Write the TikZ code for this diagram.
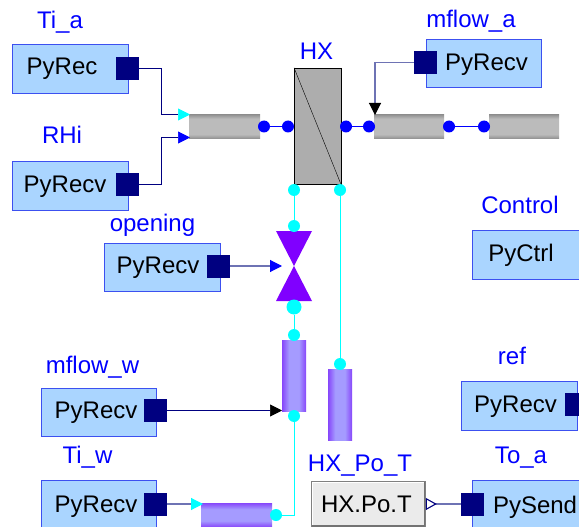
\documentclass[tikz,border=0pt]{standalone}
\usepackage{fontspec}
\setmainfont{Liberation Sans}
\usetikzlibrary{arrows.meta}
\definecolor{boxFill}{RGB}{170,213,255}
\definecolor{boxLine}{RGB}{60,80,240}
\definecolor{portDark}{RGB}{0,0,128}
\definecolor{wireGray}{RGB}{110,115,180}
\definecolor{valvePurple}{RGB}{128,0,255}
\definecolor{aqua}{RGB}{0,255,255}
\definecolor{pipeGray}{RGB}{187,187,187}
\definecolor{pipeEdge}{RGB}{150,150,150}
\definecolor{pipeLight}{RGB}{165,155,255}
\definecolor{pipeRim}{RGB}{135,70,250}
\pgfdeclareverticalshading{greyPipe}{100bp}{color(0bp)=(pipeEdge); color(25bp)=(pipeEdge); color(33bp)=(pipeGray); color(67bp)=(pipeGray); color(75bp)=(pipeEdge); color(100bp)=(pipeEdge)}
\pgfdeclareverticalshading{purplePipeH}{100bp}{color(0bp)=(pipeRim); color(25bp)=(pipeRim); color(38bp)=(pipeLight); color(62bp)=(pipeLight); color(75bp)=(pipeRim); color(100bp)=(pipeRim)}
\pgfdeclarehorizontalshading{purplePipeV}{100bp}{color(0bp)=(pipeRim); color(25bp)=(pipeRim); color(40bp)=(pipeLight); color(60bp)=(pipeLight); color(75bp)=(pipeRim); color(100bp)=(pipeRim)}
\tikzset{
  block/.style={draw=boxLine, semithick, fill=boxFill, minimum width=115.5pt, minimum height=48.5pt, inner sep=0pt, anchor=north west, text height=18pt, text depth=5pt, font=\fontsize{24}{24}\selectfont},
  tag/.style={text=blue, inner sep=0pt, anchor=base, font=\fontsize{24}{24}\selectfont},
  sqport/.style={fill=portDark, minimum size=23pt, inner sep=0pt},
  dot/.style={circle, fill=blue, minimum size=12pt, inner sep=0pt},
  cdot/.style={circle, fill=aqua, minimum size=12pt, inner sep=0pt},
  wire/.style={draw=portDark, line width=0.7pt},
  softwire/.style={draw=wireGray, line width=1.1pt},
  blueline/.style={draw=blue, line width=0.8pt},
  cyanline/.style={draw=aqua, line width=0.7pt},
  tipin/.style={-{Triangle[length=12pt,width=12pt,color=#1,fill=#1]}},
}
\begin{document}
\begin{tikzpicture}[x=1pt, y=-1pt]
  \useasboundingbox (0,0) rectangle (579,527);
  % grey pipes
  \foreach \xA/\xB in {189/260, 374/444, 489/559} {
      \shade[shading=greyPipe] (\xA,115) rectangle (\xB,138);
  }
  % purple pipes
  \shade[shading=purplePipeV] (282,340) rectangle (306,411);
  \shade[shading=purplePipeV] (328,369) rectangle (352,440);
  \shade[shading=purplePipeH] (201,503) rectangle (272,527);
  % heat exchanger
  \node (hx) [draw, fill=black!32, minimum width=46.5pt, minimum height=116pt, inner sep=0pt] at (317.5,126) {};
  \draw (hx.north west) -- (hx.south east);
  % valve
  \fill[valvePurple] (276,231) -- (312,231) -- (276,301) -- (312,301) -- cycle;
  \coordinate (valveIn) at (282,266);
  % blocks
  \node (tiA) [block] at (12,44.5) {\hspace*{-16pt}\raisebox{1pt}{PyRec}};
  \node (rhi) [block] at (12,161) {\hspace*{-10pt}PyRecv};
  \node (flowA) [block] at (425.5,39) {\hspace*{6pt}PyRecv};
  \node (ctrl) [block] at (472,230) {\hspace*{-18pt}PyCtrl};
  \node (open) [block] at (104,242.5) {\hspace*{-8pt}PyRecv};
  \node (flowW) [block] at (40.5,387.5) {\hspace*{-5pt}PyRecv};
  \node (tiW) [block] at (40.5,480) {\hspace*{-5pt}\raisebox{-1pt}{PyRecv}};
  \node (refB) [block] at (461,381) {\hspace*{-7pt}PyRecv};
  \node (toA) [block] at (472,480) {\hspace*{10pt}\raisebox{-2pt}{PySend}};
  % tags
  \node (hxTag) [tag] at (316.5,59.5) {HX};
  \node (tiAtag) [tag] at (60,28.5) {Ti\_a};
  \node (rhiTag) [tag] at (62,143.5) {RHi};
  \node (flowAtag) [tag] at (471,28) {mflow\_a};
  \node (ctrlTag) [tag] at (520,213.5) {Control};
  \node (openTag) [tag] at (152.5,231.5) {opening};
  \node (flowWtag) [tag] at (92.5,373.5) {mflow\_w};
  \node (tiWtag) [tag] at (87.5,463.5) {Ti\_w};
  \node (refTag) [tag] at (512,364) {ref};
  \node (toAtag) [tag] at (521,463.5) {To\_a};
  \node (poTag) [tag] at (360,471) {HX\_Po\_T};
  % square ports
  \node (sqTiA) [sqport] at (127.5,68.5) {};
  \node (sqRhi) [sqport] at (127.5,184.5) {};
  \node (sqFlowA) [sqport] at (425.5,62.5) {};
  \node (sqOpen) [sqport] at (218.5,266) {};
  \node (sqFlowW) [sqport] at (155.5,410.5) {};
  \node (sqTiW) [sqport] at (155.5,504) {};
  \node (sqRef) [sqport] at (576.5,404.5) {};
  \node (sqTo) [sqport] at (472.5,504) {};
  % sensor box
  \node (po) [draw=black!50, line width=0.8pt, fill=black!8, minimum width=114pt, minimum height=45.5pt, inner sep=0pt, anchor=north west, font=\fontsize{24}{24}\selectfont] at (311,481) {\hspace*{-4pt}HX.Po.T};
  \draw[white, line width=1.4pt] ([xshift=1.4pt,yshift=1.4pt]po.south west) |- ([xshift=-1.4pt,yshift=-1.4pt]po.north east);
  \draw[black!55, line width=1.4pt] ([xshift=1.4pt,yshift=1.4pt]po.south west) -| ([xshift=-1.4pt,yshift=-1.4pt]po.north east);
  % round ports
  \node (bA) [dot] at (264,126.5) {};
  \node (bB) [dot] at (288,126.5) {};
  \node (bC) [dot] at (346,126.5) {};
  \node (bD) [dot] at (369,126.5) {};
  \node (bE) [dot] at (449,126.5) {};
  \node (bF) [dot] at (484,126.5) {};
  \node (cA) [cdot] at (294,190) {};
  \node (cB) [cdot] at (340,190) {};
  \node (cC) [cdot] at (294,226) {};
  \node (cD) [cdot, minimum size=15pt] at (294,307) {};
  \node (cE) [cdot] at (294,335) {};
  \node (cF) [cdot] at (294,416) {};
  \node (cG) [cdot] at (340,364) {};
  \node (cH) [cdot] at (276,515) {};
  % connectors
  \draw[blueline] (bA) -- (bB);
  \draw[blueline] (bC) -- (bD);
  \draw[blueline] (bE) -- (bF);
  \draw[cyanline] (cA) -- (cC);
  \draw[cyanline] (cD) -- (cE);
  \draw[cyanline] (cB) -- (cG);
  \draw[cyanline] (cF) |- (cH);
  \coordinate (tipA) at (190,114.5);
  \coordinate (tipB) at (190,137.5);
  \coordinate (tipC) at (375,115);
  \coordinate (tipD) at (282,410.5);
  \coordinate (tipE) at (203,504);
  \draw[wire, tipin=aqua] (sqTiA.east) -- (161.5,68.5) -- (161.5,114.5) -- (tipA);
  \draw[wire, tipin=blue] (sqRhi.east) -- (161.5,184.5) -- (161.5,137.5) -- (tipB);
  \draw[softwire, tipin=black] (sqFlowA.west) -| (tipC);
  \draw[softwire, tipin=blue] (sqOpen.east) -- (valveIn);
  \draw[wire, tipin=black] (sqFlowW.east) -- (tipD);
  \draw[softwire, tipin=aqua] (sqTiW.east) -- (tipE);
  \draw[softwire, {Triangle[open,reversed,length=11pt,width=12pt,color=portDark,fill=white]}-] (po.east |- sqTo) -- (sqTo.west);
\end{tikzpicture}
\end{document}
